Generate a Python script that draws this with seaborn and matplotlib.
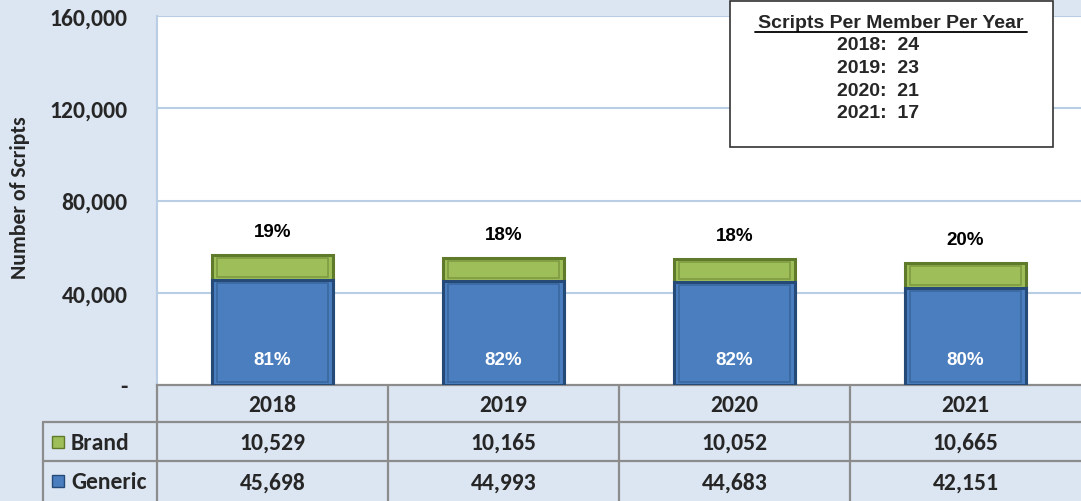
import matplotlib
matplotlib.use("Agg")
import matplotlib.pyplot as plt
import seaborn as sns
import pandas as pd
from matplotlib.patches import Rectangle

years = ["2018", "2019", "2020", "2021"]
brand = [10529, 10165, 10052, 10665]
generic = [45698, 44993, 44683, 42151]
spm_years = ["2018", "2019", "2020", "2021"]
spm_values = [24, 23, 21, 17]
yticks = [0, 40000, 80000, 120000, 160000]
ytick_labels = ["-", "40,000", "80,000", "120,000", "160,000"]

BG = "#DCE6F2"
GREEN = "#9EBE5A"
GREEN_EDGE = "#5E7A2A"
GREEN_IN = "#7E9C40"
BLUE = "#4A7EBE"
BLUE_EDGE = "#264A78"
BLUE_IN = "#3A679E"
GRID = "#B9CDE5"
TABLE_LINE = "#8C8C8C"
ARIAL = ["Liberation Sans", "DejaVu Sans"]

sns.set_style("white")
plt.rcParams["font.family"] = ["Carlito", "DejaVu Sans"]

W, H = 1081, 502
fig = plt.figure(figsize=(W / 100, H / 100), dpi=100, facecolor=BG)

L, R, T, B = 157, 1081, 17, 386
ax = fig.add_axes([L / W, 1 - B / H, (R - L) / W, (B - T) / H])
ax.set_facecolor("white")

df = pd.DataFrame({"year": years, "brand": brand, "generic": generic})
df["total"] = df["brand"] + df["generic"]

sns.barplot(data=df, x="year", y="total", color=GREEN, width=0.52, ax=ax,
            edgecolor=GREEN_EDGE, linewidth=2.2, saturation=1, zorder=3)
n_green = len(ax.patches)
sns.barplot(data=df, x="year", y="generic", color=BLUE, width=0.52, ax=ax,
            edgecolor=BLUE_EDGE, linewidth=2.2, saturation=1, zorder=4)

# subtle inner bevel outline derived from each drawn bar
bars = list(ax.patches)
for idx, p in enumerate(bars):
    x0, w = p.get_x(), p.get_width()
    y0, h = p.get_y(), p.get_height()
    dx, dy = w * 0.035, 1300
    if idx < n_green:
        seg_bottom = generic[idx]
        ax.add_patch(Rectangle((x0 + dx, seg_bottom + dy), w - 2 * dx, y0 + h - seg_bottom - 2 * dy,
                               fill=False, edgecolor=GREEN_IN, lw=1.2, zorder=5))
    else:
        ax.add_patch(Rectangle((x0 + dx, y0 + dy), w - 2 * dx, h - 2 * dy,
                               fill=False, edgecolor=BLUE_IN, lw=1.2, zorder=5))

ax.set_xlim(-0.5, 3.5)
ax.set_ylim(0, 160000)
ax.set_yticks(yticks)
ax.set_yticklabels(ytick_labels, fontsize=17, fontweight="bold")
ax.tick_params(axis="y", length=0, pad=21)
ax.set_xticks([])
ax.set_xlabel("")
ax.set_ylabel("Number of Scripts", fontsize=15.7, fontweight="bold")
ax.yaxis.set_label_coords(-0.137, 0.51)
for y in yticks[1:]:
    ax.axhline(y, color=GRID, lw=1.5, zorder=1)
for s in ["top", "right"]:
    ax.spines[s].set_visible(False)
ax.spines["left"].set_color(GRID)
ax.spines["left"].set_linewidth(1.5)
ax.spines["bottom"].set_color(TABLE_LINE)
ax.spines["bottom"].set_linewidth(1.6)

for i, (b, g) in enumerate(zip(brand, generic)):
    tot = b + g
    ax.text(i, tot + 10300, f"{round(100 * b / tot):d}%", ha="center", va="center",
            fontsize=13.5, fontweight="bold", color="black", family=ARIAL, zorder=6)
    ax.text(i, 11000, f"{round(100 * g / tot):d}%", ha="center", va="center",
            fontsize=13.5, fontweight="bold", color="white", family=ARIAL, zorder=6)

ov = fig.add_axes([0, 0, 1, 1], facecolor="none")
ov.set_xlim(0, W)
ov.set_ylim(H, 0)
ov.axis("off")

col_w = (R - L) / 4
rows_y = [B, 423, 462, H]
lw = 1.6
ov.plot([L, R], [423, 423], color=TABLE_LINE, lw=lw)
ov.plot([43, L], [423, 423], color=TABLE_LINE, lw=lw)
ov.plot([43, R], [462, 462], color=TABLE_LINE, lw=lw)
for k in range(4):
    x = L + k * col_w
    ov.plot([x, x], [B, H], color=TABLE_LINE, lw=lw)
ov.plot([43, 43], [423, H], color=TABLE_LINE, lw=lw)

row_mid = [(rows_y[i] + rows_y[i + 1]) / 2 for i in range(3)]
for k in range(4):
    cx = L + (k + 0.5) * col_w
    ov.text(cx, row_mid[0] + 1, years[k], ha="center", va="center", fontsize=17, fontweight="bold")
    ov.text(cx, row_mid[1] + 1, f"{brand[k]:,}", ha="center", va="center", fontsize=17, fontweight="bold")
    ov.text(cx, row_mid[2] + 1, f"{generic[k]:,}", ha="center", va="center", fontsize=17, fontweight="bold")

for (name, fc, ec, ym) in [("Brand", GREEN, GREEN_EDGE, row_mid[1]), ("Generic", BLUE, BLUE_EDGE, row_mid[2])]:
    ov.add_patch(Rectangle((52, ym - 6), 12, 12, facecolor=fc, edgecolor=ec, lw=1))
    ov.text(71, ym + 1, name, ha="left", va="center", fontsize=17, fontweight="bold")

ov.add_patch(Rectangle((730, 2), 323, 146, facecolor="white", edgecolor="#333333", lw=1.2, zorder=5))
ov.text(891, 23, "Scripts Per Member Per Year", ha="center", va="center", fontsize=14,
        fontweight="bold", family=ARIAL, zorder=6)
ov.plot([755, 1027], [32.5, 32.5], color="black", lw=1.3, zorder=6)
for i, (yy, v) in enumerate(zip(spm_years, spm_values)):
    ov.text(837, 46 + i * 22.5, f"{yy}:  {v}", ha="left", va="center", fontsize=14,
            fontweight="bold", family=ARIAL, zorder=6)

fig.savefig("out.png", dpi=100, facecolor=BG)
